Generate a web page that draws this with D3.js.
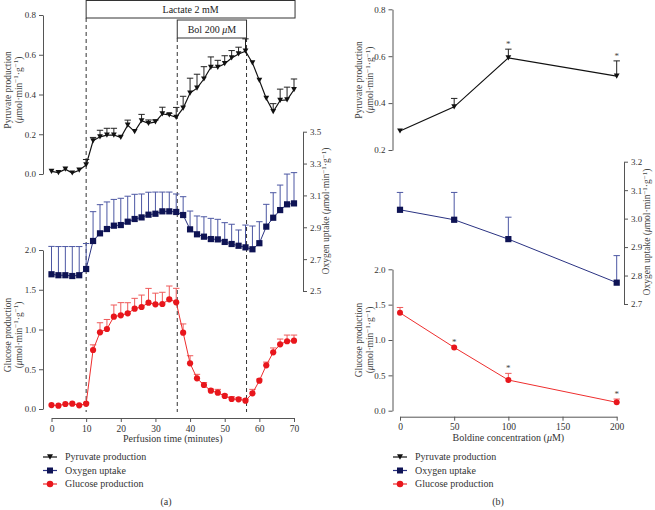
<!DOCTYPE html>
<html><head><meta charset="utf-8">
<script src="https://cdn.jsdelivr.net/npm/d3@7/dist/d3.min.js"></script>
<style>body{margin:0;background:#fff}svg{display:block}text{font-family:"Liberation Serif","DejaVu Serif",serif}</style>
</head><body>
<svg id="c" width="655" height="510"></svg>
<script>
// ---------- Panel (a) data ----------
const timeA = [0,2,4,6,8,10,12,14,16,18,20,22,24,26,28,30,32,34,36,38,40,42,44,46,48,50,52,54,56,58,60,62,64,66,68,70];
const pyrA = [0.013,0.007,0.024,0.005,0.019,0.046,0.167,0.187,0.196,0.196,0.184,0.246,0.213,0.268,0.255,0.262,0.302,0.297,0.285,0.331,0.407,0.432,0.478,0.537,0.537,0.555,0.584,0.604,0.618,0.559,0.471,0.38,0.314,0.37,0.373,0.424];
const pyrAErr = [0,0,0,0,0,0.027,0.017,0.033,0.034,0.034,0,0.025,0,0.032,0.017,0.01,0.034,0.008,0.05,0.06,0.075,0.07,0.062,0.052,0.035,0.04,0.037,0.034,0.062,0,0,0,0.04,0.057,0.064,0.054];
const oxA = [2.605,2.599,2.599,2.594,2.599,2.638,2.814,2.862,2.889,2.91,2.914,2.935,2.952,2.962,2.979,2.985,3.0,3.0,2.996,2.977,2.887,2.856,2.841,2.826,2.824,2.808,2.795,2.784,2.774,2.762,2.80,2.904,2.96,3.008,3.044,3.05];
const oxAErr = [0.175,0.18,0.18,0.185,0.18,0.16,0.184,0.18,0.17,0.165,0.168,0.16,0.155,0.147,0.141,0.136,0.121,0.121,0.113,0.115,0.115,0.115,0.125,0.13,0.126,0.121,0.124,0.099,0.14,0.146,0.135,0.14,0.157,0.157,0.19,0.193];
const gluA = [0.05,0.042,0.063,0.067,0.046,0.067,0.742,0.965,1.006,1.161,1.178,1.203,1.262,1.283,1.337,1.317,1.321,1.38,1.342,0.96,0.575,0.386,0.302,0.23,0.205,0.164,0.126,0.122,0.105,0.197,0.356,0.55,0.713,0.814,0.852,0.86];
const gluAErr = [0,0,0,0,0,0.01,0.065,0.12,0.12,0.147,0.16,0.134,0.13,0.15,0.18,0.14,0.147,0.167,0.176,0.11,0.095,0.05,0.03,0.02,0.042,0.02,0.03,0.02,0.02,0.05,0.02,0.04,0.055,0.066,0.078,0.07];
const xTicksA = [0,10,20,30,40,50,60,70];
const pyrTicksA = [0,0.2,0.4,0.6,0.8];
const oxTicksA = [2.5,2.7,2.9,3.1,3.3,3.5];
const gluTicks = [0,0.5,1.0,1.5,2.0];
const markerTimes = [10,36.3,56.3];
// ---------- Panel (b) data ----------
const conc = [0,50,100,200];
const pyrB = [0.281,0.384,0.593,0.515];
const pyrBErr = [0,0.036,0.037,0.065];
const pyrBStar = [false,false,true,true];
const oxB = [3.031,2.996,2.928,2.775];
const oxBErr = [0.061,0.096,0.077,0.095];
const gluB = [1.384,0.895,0.434,0.118];
const gluBErr = [0.076,0,0.094,0.047];
const gluBStar = [false,true,true,true];
const xTicksB = [0,50,100,150,200];
const pyrTicksB = [0.2,0.4,0.6,0.8];
const oxTicksB = [2.7,2.8,2.9,3.0,3.1,3.2];

const svg = d3.select("#c");
const COL = {pyr:"#111111", pyrE:"#222222", ox:"#0e1354", oxL:"#2a3282", oxE:"#4c57a3", glu:"#e8161c", gluL:"#ee2e2e", gluE:"#ef5a5a", axis:"#555", txt:"#333"};

function fmt(v){ return d3.format(".1f")(v); }

function yAxis(g, scale, ticks, x, side){
  const ax = (side==="left"? d3.axisLeft(scale) : d3.axisRight(scale)).tickValues(ticks).tickFormat(fmt).tickSize(4).tickSizeOuter(0).tickPadding(3);
  const gg = g.append("g").attr("transform",`translate(${x},0)`).call(ax);
  gg.select(".domain").attr("stroke",COL.axis);
  gg.selectAll(".tick line").attr("stroke",COL.axis);
  gg.selectAll(".tick text").attr("fill",COL.txt).style("font-size","9px").style("font-family","Liberation Serif");
  return gg;
}
function xAxis(g, scale, ticks, y){
  const ax = d3.axisBottom(scale).tickValues(ticks).tickSize(4).tickSizeOuter(0).tickPadding(3);
  const gg = g.append("g").attr("transform",`translate(0,${y})`).call(ax);
  gg.select(".domain").attr("stroke",COL.axis);
  gg.selectAll(".tick line").attr("stroke",COL.axis);
  gg.selectAll(".tick text").attr("fill",COL.txt).style("font-size","9.5px").style("font-family","Liberation Serif");
}
function unitTspans(t){
  t.append("tspan").text("(");
  t.append("tspan").attr("font-style","italic").text("μ");
  t.append("tspan").text("mol·min");
  t.append("tspan").attr("dy",-3.5).style("font-size","7px").text("−1");
  t.append("tspan").attr("dy",3.5).text("·g");
  t.append("tspan").attr("dy",-3.5).style("font-size","7px").text("−1");
  t.append("tspan").attr("dy",3.5).text(")");
}
function title2(x1,x2,cy,first){
  svg.append("text").attr("transform",`translate(${x1},${cy}) rotate(-90)`).attr("text-anchor","middle").attr("fill","#444").style("font-size","9.5px").text(first);
  const b = svg.append("text").attr("transform",`translate(${x2},${cy}) rotate(-90)`).attr("text-anchor","middle").attr("fill","#444").style("font-size","9.5px");
  unitTspans(b);
}
function title1(x,cy,first){
  const b = svg.append("text").attr("transform",`translate(${x},${cy}) rotate(-90)`).attr("text-anchor","middle").attr("fill","#444").style("font-size","9.5px");
  b.append("tspan").text(first+" ");
  unitTspans(b);
}
function marker(g, type, x, y, color, s){
  if(type==="tri"){
    const h = s*0.9;
    g.append("path").attr("d",`M${x-s/2},${y-h/2}L${x+s/2},${y-h/2}L${x},${y+h/2}Z`).attr("fill",color);
  } else if(type==="sq"){
    g.append("rect").attr("x",x-s/2).attr("y",y-s/2).attr("width",s).attr("height",s).attr("fill",color);
  } else {
    g.append("circle").attr("cx",x).attr("cy",y).attr("r",s/2).attr("fill",color);
  }
}
function series(xs, vals, errs, xS, yS, type, mcol, lcol, ecol, s, lw){
  const g = svg.append("g");
  xs.forEach((xv,i)=>{
    if(errs[i]>0){
      const x=xS(xv), y0=yS(vals[i]), y1=yS(vals[i]+errs[i]);
      g.append("line").attr("x1",x).attr("x2",x).attr("y1",y0).attr("y2",y1).attr("stroke",ecol).attr("stroke-width",1);
      g.append("line").attr("x1",x-3.2).attr("x2",x+3.2).attr("y1",y1).attr("y2",y1).attr("stroke",ecol).attr("stroke-width",1);
    }
  });
  const line = d3.line().x((d,i)=>xS(xs[i])).y(d=>yS(d));
  g.append("path").attr("d",line(vals)).attr("fill","none").attr("stroke",lcol).attr("stroke-width",lw);
  xs.forEach((xv,i)=>marker(g,type,xS(xv),yS(vals[i]),mcol,s));
  return g;
}
function stars(xs, vals, errs, flags, xS, yS, col){
  xs.forEach((xv,i)=>{
    if(flags[i]) svg.append("text").attr("x",xS(xv)).attr("y",yS(vals[i]+errs[i])-2).attr("text-anchor","middle").attr("fill",col).style("font-size","9px").text("*");
  });
}
function legend(x, y0){
  const items=[["Pyruvate production","tri",COL.pyr,COL.pyr],["Oxygen uptake","sq",COL.ox,COL.oxL],["Glucose production","circ",COL.glu,COL.gluL]];
  items.forEach((it,i)=>{
    const y=y0+i*13.5;
    svg.append("line").attr("x1",x-7).attr("x2",x+7).attr("y1",y).attr("y2",y).attr("stroke",it[3]).attr("stroke-width",1.2);
    marker(svg,it[1],x,y,it[2],it[1]==="circ"?6.5:6);
    svg.append("text").attr("x",x+15).attr("y",y+3.4).attr("fill",COL.txt).style("font-size","10px").text(it[0]);
  });
}

// ================= Panel (a) =================
const xA = d3.scaleLinear().domain([0,70]).range([51.5,294]);
const yPyrA = d3.scaleLinear().domain([0,0.8]).range([174,15]);
const yOxA = d3.scaleLinear().domain([2.5,3.5]).range([291,131.7]);
const yGluA = d3.scaleLinear().domain([0,2]).range([409,250]);

svg.append("rect").attr("x",xA(10)).attr("y",0.5).attr("width",xA(70.3)-xA(10)).attr("height",17.5).attr("fill","#fff").attr("stroke","#333");
svg.append("text").attr("x",(xA(10)+xA(70.3))/2).attr("y",13).attr("text-anchor","middle").attr("fill","#222").style("font-size","10px").text("Lactate 2 mM");
svg.append("rect").attr("x",xA(markerTimes[1])).attr("y",20).attr("width",xA(markerTimes[2])-xA(markerTimes[1])).attr("height",18).attr("fill","#fff").attr("stroke","#333");
const bt = svg.append("text").attr("x",(xA(markerTimes[1])+xA(markerTimes[2]))/2).attr("y",33).attr("text-anchor","middle").attr("fill","#222").style("font-size","10px");
bt.append("tspan").text("Bol 200 ");
bt.append("tspan").attr("font-style","italic").text("μ");
bt.append("tspan").text("M");
markerTimes.forEach((t,i)=>{
  svg.append("line").attr("x1",xA(t)).attr("x2",xA(t)).attr("y1",i===0?18:38).attr("y2",412).attr("stroke","#333").attr("stroke-width",1).attr("stroke-dasharray","4,3");
});

yAxis(svg, yPyrA, pyrTicksA, 43, "left");
yAxis(svg, yGluA, gluTicks, 43, "left");
yAxis(svg, yOxA, oxTicksA, 303, "right");
xAxis(svg, xA, xTicksA, 418);

series(timeA, oxA, oxAErr, xA, yOxA, "sq", COL.ox, COL.oxL, COL.oxE, 6.2, 1);
series(timeA, gluA, gluAErr, xA, yGluA, "circ", COL.glu, COL.gluL, COL.gluE, 6.2, 1);
series(timeA, pyrA, pyrAErr, xA, yPyrA, "tri", COL.pyr, COL.pyr, COL.pyrE, 5.8, 1.2);

title2(11,21.5,90,"Pyruvate production");
title2(11,21.5,335,"Glucose production");
title1(329,211,"Oxygen uptake");
svg.append("text").attr("x",(xA(0)+xA(70))/2).attr("y",442).attr("text-anchor","middle").attr("fill",COL.txt).style("font-size","10px").text("Perfusion time (minutes)");
legend(50,457);
svg.append("text").attr("x",166).attr("y",505).attr("text-anchor","middle").attr("fill",COL.txt).style("font-size","10px").text("(a)");

// ================= Panel (b) =================
const xB = d3.scaleLinear().domain([0,200]).range([400,616.7]);
const yPyrB = d3.scaleLinear().domain([0.2,0.8]).range([150,9.3]);
const yOxB = d3.scaleLinear().domain([2.7,3.2]).range([304,161.7]);
const yGluB = d3.scaleLinear().domain([0,2]).range([410.7,269.3]);

yAxis(svg, yPyrB, pyrTicksB, 392.5, "left");
yAxis(svg, yGluB, gluTicks, 392.5, "left");
yAxis(svg, yOxB, oxTicksB, 624, "right");
xAxis(svg, xB, xTicksB, 416.7);

series(conc, oxB, oxBErr, xB, yOxB, "sq", COL.ox, COL.oxL, COL.oxE, 6.2, 1);
series(conc, gluB, gluBErr, xB, yGluB, "circ", COL.glu, COL.gluL, COL.gluE, 6, 1);
series(conc, pyrB, pyrBErr, xB, yPyrB, "tri", COL.pyr, COL.pyr, COL.pyrE, 5.8, 1.2);
stars(conc, pyrB, pyrBErr, pyrBStar, xB, yPyrB, "#444");
stars(conc, gluB, gluBErr, gluBStar, xB, yGluB, "#444");

title2(362,373,80,"Pyruvate production");
title2(362,373,340,"Glucose production");
title1(650,232,"Oxygen uptake");
const bx = svg.append("text").attr("x",(xB(0)+xB(200))/2).attr("y",441).attr("text-anchor","middle").attr("fill",COL.txt).style("font-size","10px");
bx.append("tspan").text("Boldine concentration (");
bx.append("tspan").attr("font-style","italic").text("μ");
bx.append("tspan").text("M)");
legend(400,457);
svg.append("text").attr("x",498).attr("y",505).attr("text-anchor","middle").attr("fill",COL.txt).style("font-size","10px").text("(b)");
</script>
</body></html>
